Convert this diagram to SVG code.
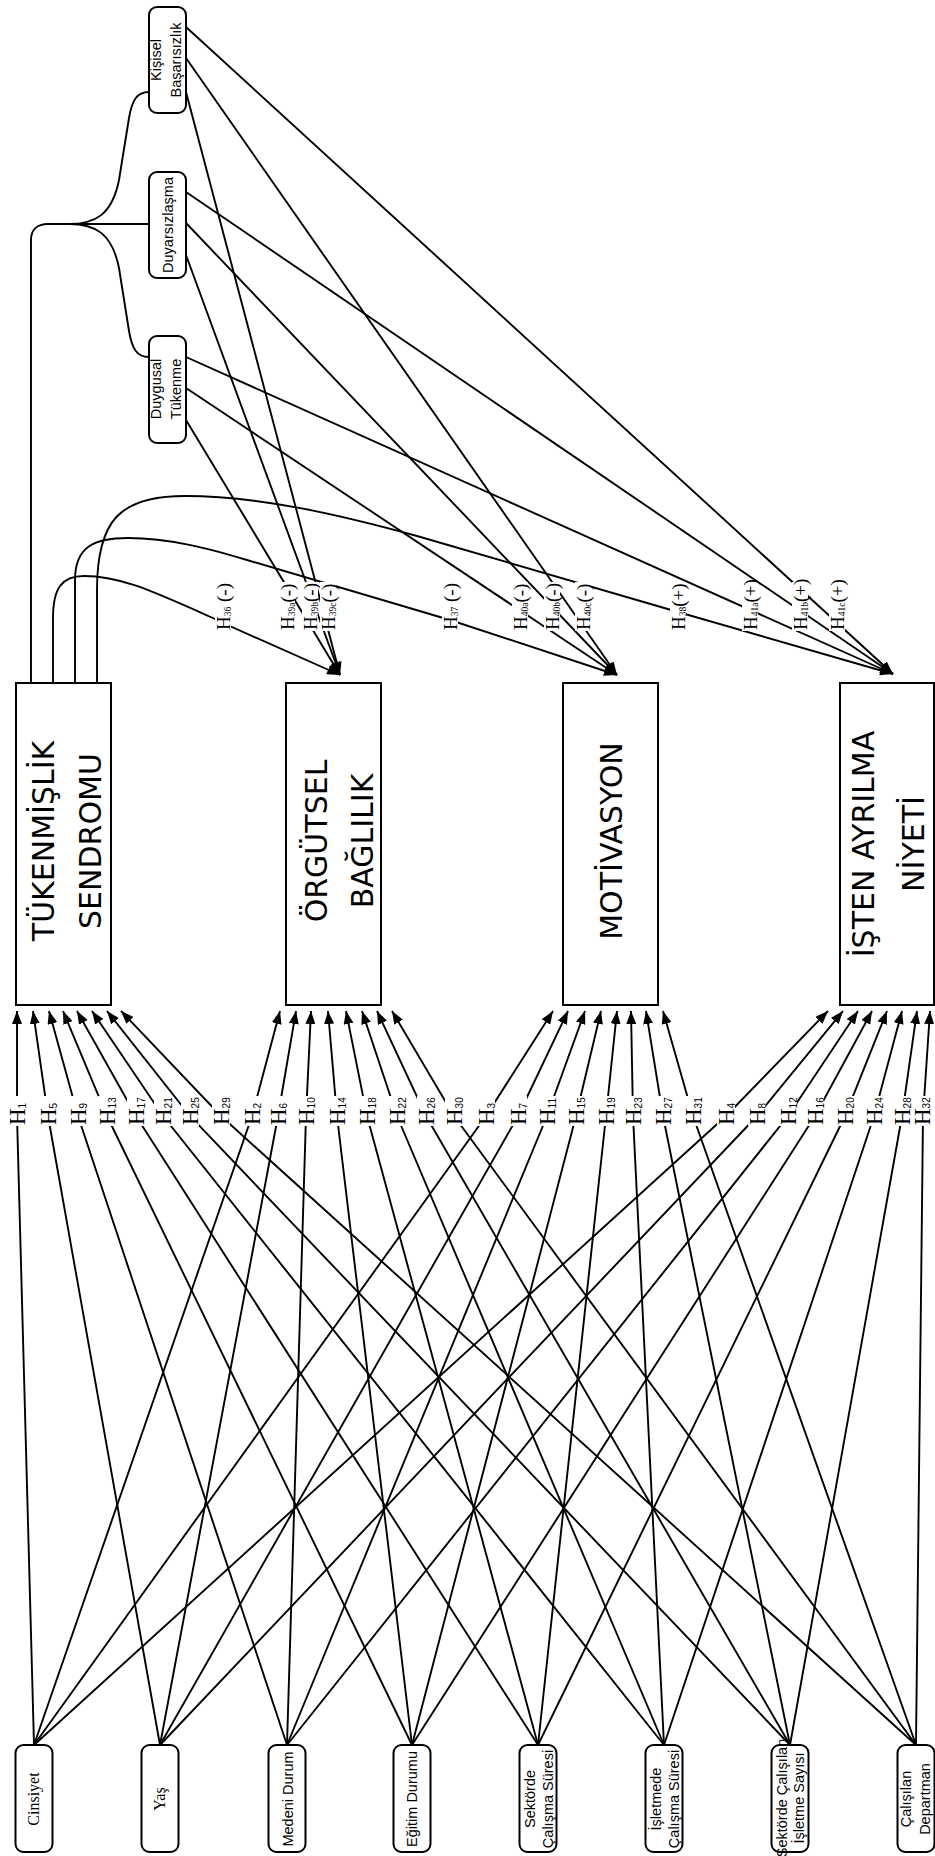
<svg xmlns="http://www.w3.org/2000/svg" width="935" height="1856" viewBox="0 0 935 1856">
<defs>
<marker id="ah" viewBox="0 0 13 10" refX="13" refY="5" markerWidth="13" markerHeight="10" markerUnits="userSpaceOnUse" orient="auto"><path d="M0,0 L13,5 L0,10 z" fill="#000"/></marker>
<style>
.ln{fill:none;stroke:#000;stroke-width:1.9}
.ar{fill:none;stroke:#000;stroke-width:1.9;marker-end:url(#ah)}
.box{fill:#fff;stroke:#000;stroke-width:2}
.big{font-family:"DejaVu Sans",sans-serif;font-size:30px;text-anchor:middle;fill:#000}
.sm{font-family:"Liberation Sans",sans-serif;font-size:14.5px;text-anchor:middle;fill:#000}
.ser{font-family:"Liberation Serif",serif;font-size:16px;text-anchor:middle;fill:#000}
.lb rect{fill:#fff}
.hb{font-family:"Liberation Serif",serif;font-size:23px;fill:#000}
.ht{font-family:"Liberation Serif",serif;font-size:19px;fill:#000}
.sb{font-family:"Liberation Sans",sans-serif;font-size:10px}
.st{font-family:"Liberation Serif",serif;font-size:9.5px}
</style>
</defs>
<rect width="935" height="1856" fill="#fff"/>

<g id="connectors">
<path class="ln" d="M31,683 L31,240 C31,230 37,224 48,224 L149,224"/>
<path class="ln" d="M69,224 C95,224 112,215 119,180 L129,118 C132,100 137,92 149,92"/>
<path class="ln" d="M69,224 C95,224 112,233 119,268 L129,331 C132,349 137,357 149,357"/>
<path class="ar" d="M53,683 L53,618 C53,588 62,576 84,576 C120,576 150,590 213,618 L223,623 L340,675"/>
<path class="ar" d="M75,683 L75,580 C75,546 95,538 128,538 C170,538 210,549 247,560 L450,620 L617,675"/>
<path class="ar" d="M97,683 L97,590 C97,520 120,496 185,496 C260,496 340,515 417,536 L678,612 L893,674"/>
<path class="ar" d="M186,420 L340,675"/>
<path class="ar" d="M186,255 L340,675"/>
<path class="ar" d="M186,92 L340,675"/>
<path class="ar" d="M186,388 L617,675"/>
<path class="ar" d="M186,223 L617,675"/>
<path class="ar" d="M186,58 L617,675"/>
<path class="ar" d="M186,357 L893,674"/>
<path class="ar" d="M186,192 L893,674"/>
<path class="ar" d="M186,27 L893,674"/>
<path class="ar" d="M34,1745 L17,1116 L17,1011"/>
<path class="ar" d="M160,1745 L48,1116 L33,1011"/>
<path class="ar" d="M287,1745 L78,1116 L49,1011"/>
<path class="ar" d="M412,1745 L107,1116 L63,1011"/>
<path class="ar" d="M538,1745 L136,1116 L77,1011"/>
<path class="ar" d="M664,1745 L163,1116 L92,1011"/>
<path class="ar" d="M790,1745 L190,1116 L107,1011"/>
<path class="ar" d="M916,1745 L221,1116 L121,1011"/>
<path class="ar" d="M34,1745 L252,1116 L280,1011"/>
<path class="ar" d="M160,1745 L278,1116 L296,1011"/>
<path class="ar" d="M287,1745 L306,1116 L311,1011"/>
<path class="ar" d="M412,1745 L337,1116 L328,1011"/>
<path class="ar" d="M538,1745 L367,1116 L346,1011"/>
<path class="ar" d="M664,1745 L397,1116 L362,1011"/>
<path class="ar" d="M790,1745 L426,1116 L377,1011"/>
<path class="ar" d="M916,1745 L454,1116 L392,1011"/>
<path class="ar" d="M34,1745 L486,1116 L553,1011"/>
<path class="ar" d="M160,1745 L518,1116 L568,1011"/>
<path class="ar" d="M287,1745 L547,1116 L585,1011"/>
<path class="ar" d="M412,1745 L576,1116 L601,1011"/>
<path class="ar" d="M538,1745 L606,1116 L617,1011"/>
<path class="ar" d="M664,1745 L633,1116 L631,1011"/>
<path class="ar" d="M790,1745 L663,1116 L646,1011"/>
<path class="ar" d="M916,1745 L693,1116 L663,1011"/>
<path class="ar" d="M34,1745 L726,1116 L828,1011"/>
<path class="ar" d="M160,1745 L757,1116 L843,1011"/>
<path class="ar" d="M287,1745 L788,1116 L858,1011"/>
<path class="ar" d="M412,1745 L815,1116 L872,1011"/>
<path class="ar" d="M538,1745 L845,1116 L887,1011"/>
<path class="ar" d="M664,1745 L874,1116 L902,1011"/>
<path class="ar" d="M790,1745 L902,1116 L917,1011"/>
<path class="ar" d="M916,1745 L923,1116 L930,1011"/>
</g>

<g id="connector-labels" class="lb">
<g transform="translate(223,630)"><rect x="-8" y="-48" width="16" height="49"/><text class="ht" transform="rotate(-90)" y="6.5">H<tspan class="st" dy="1.5">36</tspan><tspan dy="-1.5"> (-)</tspan></text></g>
<g transform="translate(287,630)"><rect x="-8" y="-48" width="16" height="49"/><text class="ht" transform="rotate(-90)" y="6.5">H<tspan class="st" dy="1.5">39a</tspan><tspan dy="-1.5">(-)</tspan></text></g>
<g transform="translate(310,630)"><rect x="-8" y="-48" width="16" height="49"/><text class="ht" transform="rotate(-90)" y="6.5">H<tspan class="st" dy="1.5">39b</tspan><tspan dy="-1.5">(-)</tspan></text></g>
<g transform="translate(328,630)"><rect x="-8" y="-48" width="16" height="49"/><text class="ht" transform="rotate(-90)" y="6.5">H<tspan class="st" dy="1.5">39c</tspan><tspan dy="-1.5">(-)</tspan></text></g>
<g transform="translate(450,630)"><rect x="-8" y="-48" width="16" height="49"/><text class="ht" transform="rotate(-90)" y="6.5">H<tspan class="st" dy="1.5">37</tspan><tspan dy="-1.5"> (-)</tspan></text></g>
<g transform="translate(520,630)"><rect x="-8" y="-48" width="16" height="49"/><text class="ht" transform="rotate(-90)" y="6.5">H<tspan class="st" dy="1.5">40a</tspan><tspan dy="-1.5">(-)</tspan></text></g>
<g transform="translate(552,630)"><rect x="-8" y="-48" width="16" height="49"/><text class="ht" transform="rotate(-90)" y="6.5">H<tspan class="st" dy="1.5">40b</tspan><tspan dy="-1.5">(-)</tspan></text></g>
<g transform="translate(583,630)"><rect x="-8" y="-48" width="16" height="49"/><text class="ht" transform="rotate(-90)" y="6.5">H<tspan class="st" dy="1.5">40c</tspan><tspan dy="-1.5">(-)</tspan></text></g>
<g transform="translate(678,630)"><rect x="-8" y="-48" width="16" height="49"/><text class="ht" transform="rotate(-90)" y="6.5">H<tspan class="st" dy="1.5">38</tspan><tspan dy="-1.5">(+)</tspan></text></g>
<g transform="translate(750,630)"><rect x="-8" y="-48" width="16" height="49"/><text class="ht" transform="rotate(-90)" y="6.5">H<tspan class="st" dy="1.5">41a</tspan><tspan dy="-1.5">(+)</tspan></text></g>
<g transform="translate(800,630)"><rect x="-8" y="-48" width="16" height="49"/><text class="ht" transform="rotate(-90)" y="6.5">H<tspan class="st" dy="1.5">41b</tspan><tspan dy="-1.5">(+)</tspan></text></g>
<g transform="translate(837,630)"><rect x="-8" y="-48" width="16" height="49"/><text class="ht" transform="rotate(-90)" y="6.5">H<tspan class="st" dy="1.5">41c</tspan><tspan dy="-1.5">(+)</tspan></text></g>

<g transform="translate(17,1116)"><rect x="-9" y="-20" width="18" height="30"/><text class="hb" transform="rotate(-90)" x="-9" y="7.5">H<tspan class="sb" dy="1.5">1</tspan></text></g>
<g transform="translate(48,1116)"><rect x="-9" y="-20" width="18" height="30"/><text class="hb" transform="rotate(-90)" x="-9" y="7.5">H<tspan class="sb" dy="1.5">5</tspan></text></g>
<g transform="translate(78,1116)"><rect x="-9" y="-20" width="18" height="30"/><text class="hb" transform="rotate(-90)" x="-9" y="7.5">H<tspan class="sb" dy="1.5">9</tspan></text></g>
<g transform="translate(107,1116)"><rect x="-9" y="-20" width="18" height="30"/><text class="hb" transform="rotate(-90)" x="-9" y="7.5">H<tspan class="sb" dy="1.5">13</tspan></text></g>
<g transform="translate(136,1116)"><rect x="-9" y="-20" width="18" height="30"/><text class="hb" transform="rotate(-90)" x="-9" y="7.5">H<tspan class="sb" dy="1.5">17</tspan></text></g>
<g transform="translate(163,1116)"><rect x="-9" y="-20" width="18" height="30"/><text class="hb" transform="rotate(-90)" x="-9" y="7.5">H<tspan class="sb" dy="1.5">21</tspan></text></g>
<g transform="translate(190,1116)"><rect x="-9" y="-20" width="18" height="30"/><text class="hb" transform="rotate(-90)" x="-9" y="7.5">H<tspan class="sb" dy="1.5">25</tspan></text></g>
<g transform="translate(221,1116)"><rect x="-9" y="-20" width="18" height="30"/><text class="hb" transform="rotate(-90)" x="-9" y="7.5">H<tspan class="sb" dy="1.5">29</tspan></text></g>
<g transform="translate(252,1116)"><rect x="-9" y="-20" width="18" height="30"/><text class="hb" transform="rotate(-90)" x="-9" y="7.5">H<tspan class="sb" dy="1.5">2</tspan></text></g>
<g transform="translate(278,1116)"><rect x="-9" y="-20" width="18" height="30"/><text class="hb" transform="rotate(-90)" x="-9" y="7.5">H<tspan class="sb" dy="1.5">6</tspan></text></g>
<g transform="translate(306,1116)"><rect x="-9" y="-20" width="18" height="30"/><text class="hb" transform="rotate(-90)" x="-9" y="7.5">H<tspan class="sb" dy="1.5">10</tspan></text></g>
<g transform="translate(337,1116)"><rect x="-9" y="-20" width="18" height="30"/><text class="hb" transform="rotate(-90)" x="-9" y="7.5">H<tspan class="sb" dy="1.5">14</tspan></text></g>
<g transform="translate(367,1116)"><rect x="-9" y="-20" width="18" height="30"/><text class="hb" transform="rotate(-90)" x="-9" y="7.5">H<tspan class="sb" dy="1.5">18</tspan></text></g>
<g transform="translate(397,1116)"><rect x="-9" y="-20" width="18" height="30"/><text class="hb" transform="rotate(-90)" x="-9" y="7.5">H<tspan class="sb" dy="1.5">22</tspan></text></g>
<g transform="translate(426,1116)"><rect x="-9" y="-20" width="18" height="30"/><text class="hb" transform="rotate(-90)" x="-9" y="7.5">H<tspan class="sb" dy="1.5">26</tspan></text></g>
<g transform="translate(454,1116)"><rect x="-9" y="-20" width="18" height="30"/><text class="hb" transform="rotate(-90)" x="-9" y="7.5">H<tspan class="sb" dy="1.5">30</tspan></text></g>
<g transform="translate(486,1116)"><rect x="-9" y="-20" width="18" height="30"/><text class="hb" transform="rotate(-90)" x="-9" y="7.5">H<tspan class="sb" dy="1.5">3</tspan></text></g>
<g transform="translate(518,1116)"><rect x="-9" y="-20" width="18" height="30"/><text class="hb" transform="rotate(-90)" x="-9" y="7.5">H<tspan class="sb" dy="1.5">7</tspan></text></g>
<g transform="translate(547,1116)"><rect x="-9" y="-20" width="18" height="30"/><text class="hb" transform="rotate(-90)" x="-9" y="7.5">H<tspan class="sb" dy="1.5">11</tspan></text></g>
<g transform="translate(576,1116)"><rect x="-9" y="-20" width="18" height="30"/><text class="hb" transform="rotate(-90)" x="-9" y="7.5">H<tspan class="sb" dy="1.5">15</tspan></text></g>
<g transform="translate(606,1116)"><rect x="-9" y="-20" width="18" height="30"/><text class="hb" transform="rotate(-90)" x="-9" y="7.5">H<tspan class="sb" dy="1.5">19</tspan></text></g>
<g transform="translate(633,1116)"><rect x="-9" y="-20" width="18" height="30"/><text class="hb" transform="rotate(-90)" x="-9" y="7.5">H<tspan class="sb" dy="1.5">23</tspan></text></g>
<g transform="translate(663,1116)"><rect x="-9" y="-20" width="18" height="30"/><text class="hb" transform="rotate(-90)" x="-9" y="7.5">H<tspan class="sb" dy="1.5">27</tspan></text></g>
<g transform="translate(693,1116)"><rect x="-9" y="-20" width="18" height="30"/><text class="hb" transform="rotate(-90)" x="-9" y="7.5">H<tspan class="sb" dy="1.5">31</tspan></text></g>
<g transform="translate(726,1116)"><rect x="-9" y="-20" width="18" height="30"/><text class="hb" transform="rotate(-90)" x="-9" y="7.5">H<tspan class="sb" dy="1.5">4</tspan></text></g>
<g transform="translate(757,1116)"><rect x="-9" y="-20" width="18" height="30"/><text class="hb" transform="rotate(-90)" x="-9" y="7.5">H<tspan class="sb" dy="1.5">8</tspan></text></g>
<g transform="translate(788,1116)"><rect x="-9" y="-20" width="18" height="30"/><text class="hb" transform="rotate(-90)" x="-9" y="7.5">H<tspan class="sb" dy="1.5">12</tspan></text></g>
<g transform="translate(815,1116)"><rect x="-9" y="-20" width="18" height="30"/><text class="hb" transform="rotate(-90)" x="-9" y="7.5">H<tspan class="sb" dy="1.5">16</tspan></text></g>
<g transform="translate(845,1116)"><rect x="-9" y="-20" width="18" height="30"/><text class="hb" transform="rotate(-90)" x="-9" y="7.5">H<tspan class="sb" dy="1.5">20</tspan></text></g>
<g transform="translate(874,1116)"><rect x="-9" y="-20" width="18" height="30"/><text class="hb" transform="rotate(-90)" x="-9" y="7.5">H<tspan class="sb" dy="1.5">24</tspan></text></g>
<g transform="translate(902,1116)"><rect x="-9" y="-20" width="18" height="30"/><text class="hb" transform="rotate(-90)" x="-9" y="7.5">H<tspan class="sb" dy="1.5">28</tspan></text></g>
<g transform="translate(922,1116)"><rect x="-9" y="-20" width="18" height="30"/><text class="hb" transform="rotate(-90)" x="-9" y="7.5">H<tspan class="sb" dy="0.5">32</tspan></text></g>
</g>

<g id="kisisel-basarisizlik">
<rect class="box" x="149" y="7" width="37" height="106" rx="8"/>
<text class="sm" font-size="14" transform="translate(161,60) rotate(-90)">Kişisel</text>
<text class="sm" font-size="14" transform="translate(181,60) rotate(-90)">Başarısızlık</text>
</g>
<g id="duyarsizlasma">
<rect class="box" x="149" y="172" width="37" height="106" rx="8"/>
<text class="sm" font-size="14" transform="translate(173,225) rotate(-90)">Duyarsızlaşma</text>
</g>
<g id="duygusal-tukenme">
<rect class="box" x="149" y="336" width="37" height="107" rx="8"/>
<text class="sm" font-size="14" transform="translate(161,389) rotate(-90)">Duygusal</text>
<text class="sm" font-size="14" transform="translate(181,389) rotate(-90)">Tükenme</text>
</g>

<g id="tukenmislik-sendromu">
<rect class="box" x="16" y="683" width="95" height="322"/>
<text class="big" transform="translate(54,841) rotate(-90)">TÜKENMİŞLİK</text>
<text class="big" transform="translate(101,841) rotate(-90)">SENDROMU</text>
</g>
<g id="orgutsel-baglilik">
<rect class="box" x="286" y="683" width="95" height="322"/>
<text class="big" transform="translate(327,841) rotate(-90)">ÖRGÜTSEL</text>
<text class="big" transform="translate(373,841) rotate(-90)">BAĞLILIK</text>
</g>
<g id="motivasyon">
<rect class="box" x="563" y="683" width="95" height="322"/>
<text class="big" transform="translate(622,841) rotate(-90)">MOTİVASYON</text>
</g>
<g id="isten-ayrilma-niyeti">
<rect class="box" x="840" y="683" width="94" height="322"/>
<text class="big" transform="translate(874,844) rotate(-90)">İŞTEN AYRILMA</text>
<text class="big" transform="translate(924,844) rotate(-90)">NİYETİ</text>
</g>

<g id="cinsiyet">
<rect class="box" x="15.5" y="1745" width="37" height="107" rx="8"/>
<text class="ser" transform="translate(39,1799) rotate(-90)">Cinsiyet</text>
</g>
<g id="yas">
<rect class="box" x="141.5" y="1745" width="37" height="107" rx="8"/>
<text class="ser" transform="translate(165,1799) rotate(-90)">Yaş</text>
</g>
<g id="medeni-durum">
<rect class="box" x="268.5" y="1745" width="37" height="107" rx="8"/>
<text class="sm" font-size="15" transform="translate(293,1799) rotate(-90)">Medeni Durum</text>
</g>
<g id="egitim-durumu">
<rect class="box" x="393.5" y="1745" width="37" height="107" rx="8"/>
<text class="sm" font-size="15" transform="translate(417,1799) rotate(-90)">Eğitim Durumu</text>
</g>
<g id="sektorde-calisma-suresi">
<rect class="box" x="519.5" y="1745" width="37" height="107" rx="8"/>
<text class="sm" transform="translate(535,1799) rotate(-90)">Sektörde</text>
<text class="sm" transform="translate(553,1799) rotate(-90)">Çalışma Süresi</text>
</g>
<g id="isletmede-calisma-suresi">
<rect class="box" x="645.5" y="1745" width="37" height="107" rx="8"/>
<text class="sm" transform="translate(661,1799) rotate(-90)">İşletmede</text>
<text class="sm" transform="translate(679,1799) rotate(-90)">Çalışma Süresi</text>
</g>
<g id="sektorde-calisilan-isletme-sayisi">
<rect class="box" x="771.5" y="1745" width="37" height="107" rx="8"/>
<text class="sm" font-size="13" transform="translate(787,1798) rotate(-90)">Sektörde Çalışılan</text>
<text class="sm" font-size="13" transform="translate(804,1798) rotate(-90)">İşletme Sayısı</text>
</g>
<g id="calisilan-departman">
<rect class="box" x="897.5" y="1745" width="37" height="107" rx="8"/>
<text class="sm" transform="translate(911,1799) rotate(-90)">Çalışılan</text>
<text class="sm" transform="translate(930,1799) rotate(-90)">Departman</text>
</g>
</svg>
